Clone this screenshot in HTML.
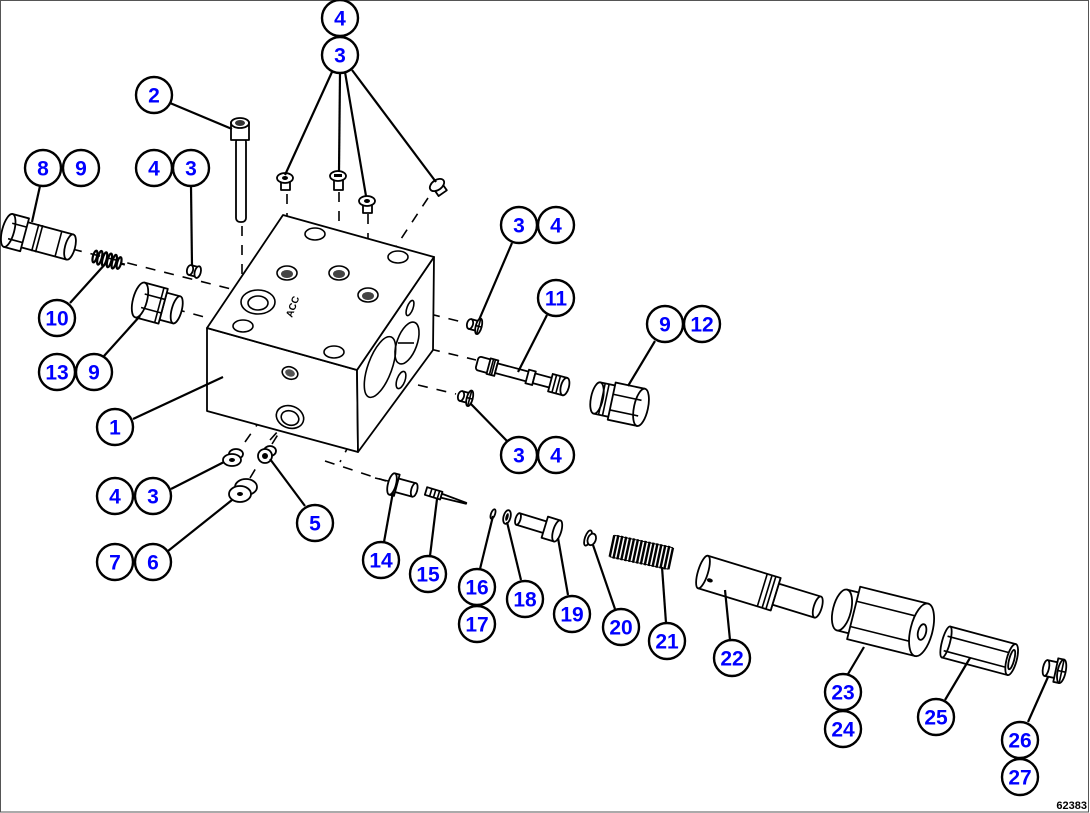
<!DOCTYPE html>
<html><head><meta charset="utf-8"><style>
html,body{margin:0;padding:0;background:#fff;}
svg{display:block;}
.p{fill:#fff;stroke:#000;stroke-width:1.8;stroke-linejoin:round;}
.l{fill:none;stroke:#000;stroke-width:1.6;}
.d{fill:none;stroke:#000;stroke-width:1.6;stroke-dasharray:10,9;}
.ld{fill:none;stroke:#000;stroke-width:2.2;}
.c circle{fill:#fff;stroke:#000;stroke-width:2.4;}
.c text{font-family:"Liberation Sans",sans-serif;font-weight:bold;font-size:21px;fill:#0000ff;text-anchor:middle;}
</style></head><body>
<svg width="1090" height="813" viewBox="0 0 1090 813" xmlns="http://www.w3.org/2000/svg">
<rect x="0.5" y="0.5" width="1088" height="811.5" fill="#fff" stroke="#555" stroke-width="1"/>

<!-- dashed center lines -->
<path class="d" d="M72 249 L243 292"/>
<path class="d" d="M175 309 L208 318"/>
<path class="d" d="M242 226 L242 292"/>
<path class="d" d="M287 194 L287 265"/>
<path class="d" d="M339 192 L339 264"/>
<path class="d" d="M368 214 L368 286"/>
<path class="d" d="M428 198 L395 248"/>
<path class="d" d="M430 314 L462 322"/>
<path class="d" d="M430 349 L476 360"/>
<path class="d" d="M418 385 L456 394"/>
<path class="d" d="M325 461 L386 481"/>
<path class="d" d="M245 442 L290 378"/>
<path class="d" d="M250 478 L262 458 M270 440 L288 420"/>
<path class="d" d="M272 444 L282 428"/>
<path class="d" d="M368 410 L340 462"/>

<!-- main block -->
<polygon class="p" points="207,328 357,370 358,452 207,411"/>
<polygon class="p" points="357,370 434,257 433,350 358,452"/>
<polygon class="p" points="283,215 434,257 357,370 207,328"/>
<!-- top face holes -->
<ellipse class="l" cx="315" cy="234" rx="10" ry="6"/>
<ellipse class="l" cx="398" cy="257" rx="10" ry="6"/>
<ellipse class="l" cx="243" cy="326" rx="10" ry="6"/>
<ellipse class="l" cx="334" cy="352" rx="10" ry="6"/>
<ellipse class="l" cx="258" cy="302" rx="17" ry="12"/>
<ellipse class="l" cx="258" cy="303" rx="10" ry="7"/>
<g>
<ellipse class="l" cx="287" cy="273" rx="10" ry="7"/><ellipse cx="287" cy="274" rx="6" ry="4" fill="#444"/>
<ellipse class="l" cx="339" cy="273" rx="10" ry="7"/><ellipse cx="339" cy="274" rx="6" ry="4" fill="#444"/>
<ellipse class="l" cx="368" cy="295" rx="10" ry="7"/><ellipse cx="368" cy="296" rx="6" ry="4" fill="#444"/>
</g>
<text x="0" y="0" transform="translate(292,318) rotate(-70)" font-family="Liberation Sans,sans-serif" font-weight="bold" font-size="10">ACC</text>
<!-- right face holes -->
<ellipse class="l" cx="380" cy="367" rx="12" ry="32" transform="rotate(20 380 367)"/>
<ellipse class="l" cx="407" cy="343" rx="10" ry="22" transform="rotate(20 407 343)"/>
<ellipse class="l" cx="410" cy="308" rx="3" ry="8" transform="rotate(20 410 308)"/>
<ellipse class="l" cx="401" cy="380" rx="4" ry="9" transform="rotate(20 401 380)"/>
<path class="l" d="M398 343 L414 343"/>
<!-- front face ports -->
<ellipse class="l" cx="290" cy="373" rx="8" ry="6" transform="rotate(20 290 373)"/>
<ellipse cx="290" cy="373" rx="5" ry="3.5" fill="#555" transform="rotate(20 290 373)"/>
<ellipse class="l" cx="290" cy="417" rx="14" ry="11" transform="rotate(20 290 417)"/>
<ellipse class="l" cx="290" cy="418" rx="9" ry="7" transform="rotate(20 290 418)"/>

<!-- bolt 2 -->
<rect class="p" x="236" y="138" width="10" height="84" rx="4"/>
<rect class="p" x="231" y="122" width="18" height="18"/>
<ellipse class="p" cx="240" cy="123" rx="9" ry="5"/>
<ellipse cx="240" cy="123" rx="5" ry="3" fill="#333"/>

<!-- top plugs -->
<g>
<rect class="p" x="281" y="180" width="9" height="10"/><ellipse class="p" cx="285" cy="178" rx="8" ry="5"/><ellipse cx="285" cy="178" rx="3" ry="2" fill="#000"/>
<rect class="p" x="334" y="178" width="9" height="12"/><ellipse class="p" cx="338" cy="176" rx="8" ry="5"/><rect x="334" y="174" width="8" height="3" fill="#000"/>
<rect class="p" x="363" y="203" width="9" height="10"/><ellipse class="p" cx="367" cy="201" rx="8" ry="5"/><ellipse cx="367" cy="201" rx="3" ry="2" fill="#000"/>
<g transform="translate(437,185) rotate(-35)"><rect class="p" x="-5" y="0" width="10" height="10"/><ellipse class="p" cx="0" cy="0" rx="8" ry="5"/></g>
</g>
<!-- left plug 3 -->
<g transform="translate(190,270) rotate(15)"><rect class="p" x="0" y="-5" width="8" height="10"/><ellipse class="p" cx="0" cy="0" rx="3" ry="5"/><ellipse class="p" cx="8" cy="0" rx="3" ry="6"/></g>

<!-- part 8 -->
<g transform="translate(14,232) rotate(15)">
<rect class="p" x="10" y="-13" width="48" height="26"/>
<ellipse class="p" cx="58" cy="0" rx="5" ry="13"/>
<path class="l" d="M22 -14 L22 14 M26 -14 L26 14 M46 -13 L46 13"/>
<rect class="p" x="-6" y="-17" width="17" height="34"/>
<ellipse class="p" cx="-6" cy="0" rx="6" ry="17"/>
<path class="l" d="M-4 -8 L11 -8 M-4 8 L11 8"/>
</g>
<!-- spring 10 -->
<g transform="translate(93,256) rotate(15)" fill="none" stroke="#000" stroke-width="2.2">
<ellipse cx="2" cy="0" rx="2" ry="6"/><ellipse cx="7" cy="0" rx="2" ry="7"/><ellipse cx="12" cy="0" rx="2" ry="7"/><ellipse cx="17" cy="0" rx="2" ry="7"/><ellipse cx="22" cy="0" rx="2" ry="7"/><ellipse cx="27" cy="0" rx="2" ry="6"/><path d="M29 0 L33 0"/>
</g>
<!-- part 13 -->
<g transform="translate(140,300) rotate(15)">
<rect class="p" x="24" y="-14" width="14" height="28"/>
<ellipse class="p" cx="38" cy="0" rx="5" ry="14"/>
<rect class="p" x="0" y="-18" width="24" height="36"/>
<ellipse class="p" cx="0" cy="0" rx="7" ry="18"/>
<path class="l" d="M3 -7 L24 -7 M3 7 L24 7 M20 -18 L20 18"/>
</g>

<!-- right small plugs 3/4 -->
<g transform="translate(470,324) rotate(15)"><rect class="p" x="0" y="-5" width="8" height="10"/><ellipse class="p" cx="0" cy="0" rx="3" ry="5"/><ellipse class="p" cx="9" cy="0" rx="3" ry="8"/><path class="l" d="M9 -8 L9 8 M6 0 L12 0"/></g>
<g transform="translate(461,396) rotate(15)"><rect class="p" x="0" y="-5" width="8" height="10"/><ellipse class="p" cx="0" cy="0" rx="3" ry="5"/><ellipse class="p" cx="9" cy="0" rx="3" ry="8"/><path class="l" d="M9 -8 L9 8 M6 0 L12 0"/></g>

<!-- part 11 -->
<g transform="translate(477,363) rotate(15)">
<rect class="p" x="0" y="-7" width="14" height="14" rx="3"/>
<rect class="p" x="12" y="-8" width="8" height="16"/><path class="l" d="M15 -8 L15 8 M17 -8 L17 8"/>
<rect class="p" x="20" y="-5" width="34" height="10"/>
<rect class="p" x="52" y="-7" width="7" height="14"/>
<rect class="p" x="59" y="-5" width="18" height="10"/>
<rect class="p" x="76" y="-9" width="15" height="18"/>
<path class="l" d="M80 -9 L80 9 M84 -9 L84 9"/>
<ellipse class="p" cx="91" cy="0" rx="4" ry="9"/>
</g>
<!-- part 9/12 plug -->
<g transform="translate(597,398) rotate(12)">
<rect class="p" x="0" y="-16" width="16" height="32"/>
<ellipse class="p" cx="0" cy="0" rx="6" ry="16"/>
<path class="l" d="M5 -16 L5 16 M9 -16 L9 16"/>
<rect class="p" x="15" y="-19" width="30" height="38"/>
<ellipse class="p" cx="45" cy="0" rx="7" ry="19"/>
<path class="l" d="M15 -7 L44 -7 M15 9 L44 9"/>
</g>

<!-- bottom front plugs -->
<ellipse class="p" cx="236" cy="454" rx="7" ry="5"/>
<ellipse class="p" cx="232" cy="460" rx="9" ry="6"/><ellipse cx="232" cy="460" rx="3" ry="2" fill="#000"/>
<ellipse class="p" cx="246" cy="487" rx="11" ry="8"/>
<ellipse class="p" cx="240" cy="494" rx="11" ry="8"/><ellipse cx="240" cy="494" rx="3" ry="2" fill="#000"/>
<ellipse class="p" cx="270" cy="451" rx="6" ry="5"/>
<ellipse class="p" cx="265" cy="456" rx="7" ry="7"/><ellipse cx="265" cy="456" rx="3" ry="3" fill="#000"/>

<!-- part 14 -->
<path class="l" d="M375 478 L388 481"/>
<g transform="translate(392,484) rotate(15)">
<rect class="p" x="3" y="-7" width="20" height="14"/>
<ellipse class="p" cx="23" cy="0" rx="3" ry="7"/>
<rect class="p" x="0" y="-11" width="5" height="22"/>
<ellipse class="p" cx="0" cy="0" rx="4" ry="11"/>
</g>
<!-- part 15 -->
<g transform="translate(426,491) rotate(17)">
<rect class="p" x="0" y="-4" width="16" height="8"/>
<path class="l" d="M5 -4 L5 4 M9 -4 L9 4 M13 -4 L13 4"/>
<path class="p" d="M16 -2 L42 -0.5 L42 0.5 L16 2 Z"/>
</g>
<!-- part 16, 18 -->
<ellipse class="p" cx="493" cy="514" rx="2" ry="5" transform="rotate(20 493 514)"/>
<ellipse class="p" cx="507" cy="517" rx="3.5" ry="7" transform="rotate(15 507 517)"/>
<ellipse cx="507" cy="517" rx="1.5" ry="4" fill="#000" transform="rotate(15 507 517)"/>
<!-- part 19 -->
<g transform="translate(518,519) rotate(17)">
<rect class="p" x="0" y="-6" width="30" height="12"/>
<ellipse class="p" cx="0" cy="0" rx="2.5" ry="6"/>
<rect class="p" x="28" y="-11" width="13" height="22"/>
<ellipse class="p" cx="41" cy="0" rx="4" ry="11"/>
</g>
<!-- part 20 -->
<g transform="translate(588,538) rotate(20)">
<ellipse class="p" cx="0" cy="0" rx="3" ry="8"/>
<ellipse class="p" cx="4" cy="0" rx="4" ry="6"/>
</g>
<!-- part 21 spring -->
<g transform="translate(612,546) rotate(12)" stroke="#000" stroke-width="2.4" fill="none">
<path d="M0 -11 L0 11 M4 -12 L4 12 M8 -12 L8 12 M12 -12 L12 12 M16 -12 L16 12 M20 -12 L20 12 M24 -12 L24 12 M28 -12 L28 12 M32 -12 L32 12 M36 -12 L36 12 M40 -12 L40 12 M44 -12 L44 12 M48 -12 L48 12 M52 -12 L52 12 M56 -12 L56 12 M60 -11 L60 11"/>
<path d="M0 -11 L60 -11 M0 11 L60 11" stroke-width="1"/>
</g>
<!-- part 22 -->
<g transform="translate(703,572) rotate(17)">
<rect class="p" x="74" y="-11" width="46" height="22"/>
<ellipse class="p" cx="120" cy="0" rx="4" ry="11"/>
<rect class="p" x="0" y="-17" width="76" height="34"/>
<path class="l" d="M62 -17 L62 17 M67 -17 L67 17 M71 -17 L71 17 M76 -17 L76 17"/>
<ellipse class="p" cx="0" cy="0" rx="5" ry="17"/>
<ellipse cx="9" cy="6" rx="3" ry="2" fill="#000"/>
</g>
<!-- part 23 -->
<g transform="translate(842,610) rotate(14)">
<rect class="p" x="0" y="-21" width="14" height="42"/>
<ellipse class="p" cx="0" cy="0" rx="9" ry="21"/>
<rect class="p" x="12" y="-27" width="70" height="54"/>
<path class="l" d="M12 -12 L82 -12 M12 14 L82 14"/>
<ellipse class="p" cx="82" cy="0" rx="11" ry="27"/>
<ellipse class="p" cx="83" cy="2" rx="4" ry="8"/>
</g>
<!-- part 25 -->
<g transform="translate(946,642) rotate(15)">
<rect class="p" x="0" y="-16" width="68" height="32"/>
<ellipse class="p" cx="0" cy="0" rx="4" ry="16"/>
<path class="l" d="M0 -6 L66 -6 M0 9 L66 9"/>
<ellipse class="p" cx="68" cy="0" rx="5" ry="16"/>
<ellipse class="p" cx="68" cy="0" rx="2.5" ry="10"/>
</g>
<!-- part 26 -->
<g transform="translate(1046,668) rotate(12)">
<rect class="p" x="0" y="-8" width="12" height="16"/>
<ellipse class="p" cx="0" cy="0" rx="3" ry="8"/>
<rect class="p" x="10" y="-12" width="6" height="24"/>
<ellipse class="p" cx="16" cy="0" rx="4" ry="12"/>
<path class="l" d="M16 -12 L16 12 M12 0 L20 0"/>
</g>

<!-- leader lines -->
<g class="ld">
<path d="M332 72 L285 175"/><path d="M340 73 L339 172"/><path d="M345 72 L366 196"/><path d="M352 70 L436 182"/>
<path d="M170 103 L232 129"/>
<path d="M191 186 L192 266"/>
<path d="M40 186 L32 222"/>
<path d="M70 303 L107 262"/>
<path d="M104 356 L140 316"/>
<path d="M133 419 L223 377"/>
<path d="M171 489 L224 462"/>
<path d="M168 551 L232 500"/>
<path d="M305 506 L270 459"/>
<path d="M512 243 L479 320"/>
<path d="M547 315 L518 372"/>
<path d="M655 341 L628 386"/>
<path d="M507 441 L470 403"/>
<path d="M384 542 L393 492"/>
<path d="M430 556 L437 499"/>
<path d="M480 569 L493 516"/>
<path d="M521 580 L507 522"/>
<path d="M568 595 L558 538"/>
<path d="M615 609 L593 545"/>
<path d="M666 623 L662 567"/>
<path d="M730 640 L725 590"/>
<path d="M848 674 L864 647"/>
<path d="M945 700 L970 658"/>
<path d="M1028 722 L1048 677"/>
</g>

<!-- callouts -->
<g class="c">
<circle cx="340" cy="18" r="18"/><text x="340" y="25.5">4</text>
<circle cx="340" cy="55" r="18"/><text x="340" y="62.5">3</text>
<circle cx="154" cy="95" r="18"/><text x="154" y="102.5">2</text>
<circle cx="43" cy="168" r="18"/><text x="43" y="175.5">8</text>
<circle cx="81" cy="168" r="18"/><text x="81" y="175.5">9</text>
<circle cx="154" cy="168" r="18"/><text x="154" y="175.5">4</text>
<circle cx="191" cy="168" r="18"/><text x="191" y="175.5">3</text>
<circle cx="519" cy="225" r="18"/><text x="519" y="232.5">3</text>
<circle cx="556" cy="225" r="18"/><text x="556" y="232.5">4</text>
<circle cx="57" cy="318" r="18"/><text x="57" y="325.5">10</text>
<circle cx="556" cy="298" r="18"/><text x="556" y="305.5">11</text>
<circle cx="665" cy="324" r="18"/><text x="665" y="331.5">9</text>
<circle cx="702" cy="324" r="18"/><text x="702" y="331.5">12</text>
<circle cx="57" cy="372" r="18"/><text x="57" y="379.5">13</text>
<circle cx="94" cy="372" r="18"/><text x="94" y="379.5">9</text>
<circle cx="115" cy="427" r="18"/><text x="115" y="434.5">1</text>
<circle cx="519" cy="455" r="18"/><text x="519" y="462.5">3</text>
<circle cx="556" cy="455" r="18"/><text x="556" y="462.5">4</text>
<circle cx="115" cy="496" r="18"/><text x="115" y="503.5">4</text>
<circle cx="153" cy="496" r="18"/><text x="153" y="503.5">3</text>
<circle cx="315" cy="523" r="18"/><text x="315" y="530.5">5</text>
<circle cx="115" cy="562" r="18"/><text x="115" y="569.5">7</text>
<circle cx="153" cy="562" r="18"/><text x="153" y="569.5">6</text>
<circle cx="381" cy="560" r="18"/><text x="381" y="567.5">14</text>
<circle cx="428" cy="574" r="18"/><text x="428" y="581.5">15</text>
<circle cx="477" cy="587" r="18"/><text x="477" y="594.5">16</text>
<circle cx="477" cy="624" r="18"/><text x="477" y="631.5">17</text>
<circle cx="525" cy="599" r="18"/><text x="525" y="606.5">18</text>
<circle cx="572" cy="614" r="18"/><text x="572" y="621.5">19</text>
<circle cx="621" cy="627" r="18"/><text x="621" y="634.5">20</text>
<circle cx="667" cy="641" r="18"/><text x="667" y="648.5">21</text>
<circle cx="732" cy="658" r="18"/><text x="732" y="665.5">22</text>
<circle cx="843" cy="692" r="18"/><text x="843" y="699.5">23</text>
<circle cx="843" cy="729" r="18"/><text x="843" y="736.5">24</text>
<circle cx="936" cy="717" r="18"/><text x="936" y="724.5">25</text>
<circle cx="1020" cy="740" r="18"/><text x="1020" y="747.5">26</text>
<circle cx="1020" cy="777" r="18"/><text x="1020" y="784.5">27</text>
</g>
<text x="1087" y="809" text-anchor="end" font-family="Liberation Sans,sans-serif" font-weight="bold" font-size="11" fill="#000">62383</text>
</svg>
</body></html>
